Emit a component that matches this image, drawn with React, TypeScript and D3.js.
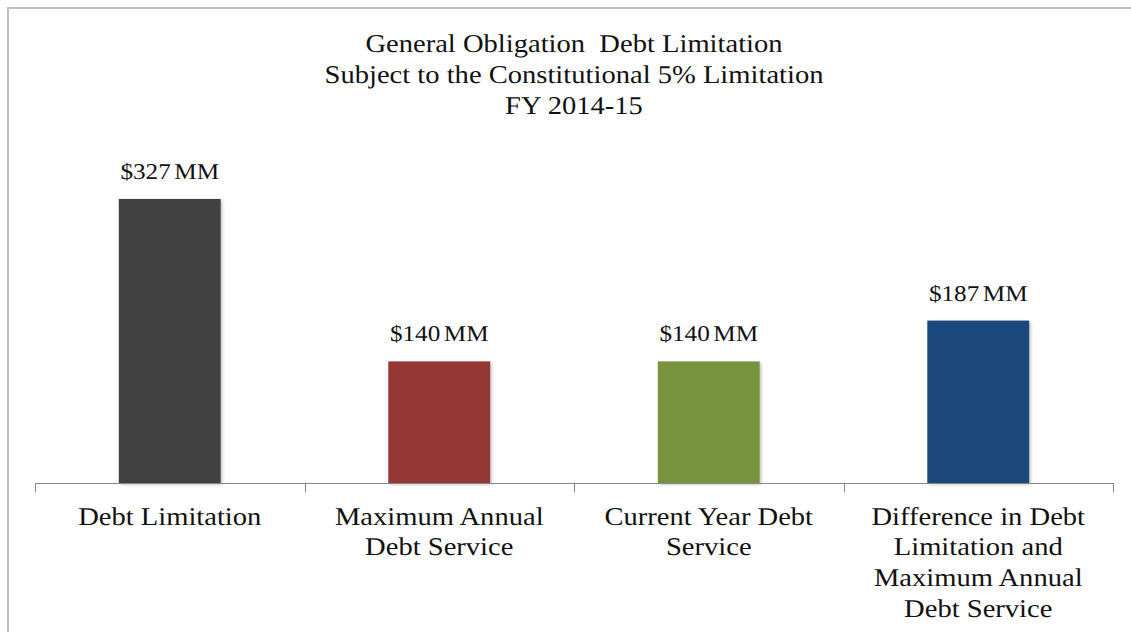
import React, { useEffect, useRef } from "react";
import * as d3 from "d3";

const categories = [
  "Debt Limitation",
  "Maximum Annual Debt Service",
  "Current Year Debt Service",
  "Difference in Debt Limitation and Maximum Annual Debt Service",
];
const categoryLines = [
  ["Debt Limitation"],
  ["Maximum Annual", "Debt Service"],
  ["Current Year Debt", "Service"],
  ["Difference in Debt", "Limitation and", "Maximum Annual", "Debt Service"],
];
const values = [327, 140, 140, 187];
const valueLabels = ["$327 MM", "$140 MM", "$140 MM", "$187 MM"];
const barColors = ["#404040", "#953735", "#77933C", "#1F497D"];
const titleLines = [
  "General Obligation  Debt Limitation",
  "Subject to the Constitutional 5% Limitation",
  "FY 2014-15",
];

const W = 1131;
const H = 632;
const FONT = "'Liberation Serif', 'Times New Roman', serif";
const SX = 1.12;

export default function App() {
  const ref = useRef<SVGSVGElement | null>(null);

  useEffect(() => {
    const svg = d3.select(ref.current);
    svg.selectAll("*").remove();

    const left = 35, right = 1113, baseY = 483;
    const x = d3.scaleBand<string>().domain(categories).range([left, right]).paddingInner(0.622).paddingOuter(0.311);
    const step = x.step();
    const y = d3.scaleLinear().domain([0, 350]).range([baseY, baseY - 304]);

    const defs = svg.append("defs");
    const f = defs.append("filter").attr("id", "sh").attr("x", "-10%").attr("y", "-10%").attr("width", "130%").attr("height", "130%");
    f.append("feDropShadow").attr("dx", 1.5).attr("dy", 1.5).attr("stdDeviation", 1.5).attr("flood-color", "#000").attr("flood-opacity", 0.25);

    // border
    svg.append("rect").attr("x", 8).attr("y", 8).attr("width", 1200).attr("height", 700)
      .attr("fill", "#fff").attr("stroke", "#C0C0C0").attr("stroke-width", 2);

    const txt = (g: any, tx: number, ty: number, size: number, s: string) =>
      g.append("text")
        .attr("transform", `translate(${tx},${ty}) scale(${SX},1)`)
        .attr("text-anchor", "middle")
        .attr("font-family", FONT).attr("font-size", size).attr("fill", "#111")
        .attr("text-rendering", "geometricPrecision")
        .style("white-space", "pre")
        .text(s);

    // title
    const tg = svg.append("g");
    titleLines.forEach((t, i) => txt(tg, (left + right) / 2, 51.5 + i * 31, 25.5, t));

    // bars
    svg.append("g").selectAll("rect").data(values).join("rect")
      .attr("x", (_, i) => x(categories[i])!)
      .attr("y", (d) => y(d))
      .attr("width", x.bandwidth())
      .attr("height", (d) => baseY - y(d))
      .attr("fill", (_, i) => barColors[i])
      .attr("filter", "url(#sh)");

    // value labels
    const vg = svg.append("g");
    values.forEach((d, i) => {
      txt(vg, x(categories[i])! + x.bandwidth() / 2, y(d) - 20, 22.5, valueLabels[i]).attr("word-spacing", -2.5);
    });

    // axis
    const ag = svg.append("g");
    ag.append("line").attr("x1", left).attr("x2", right).attr("y1", baseY + 0.5).attr("y2", baseY + 0.5)
      .attr("stroke", "#868686").attr("stroke-width", 1);
    d3.range(categories.length + 1).forEach((i) => {
      const tx = Math.round(left + i * step) + 0.5;
      ag.append("line").attr("x1", tx).attr("x2", tx).attr("y1", baseY).attr("y2", baseY + 9)
        .attr("stroke", "#868686").attr("stroke-width", 1);
    });

    // category labels
    categoryLines.forEach((lines, i) => {
      const cx = x(categories[i])! + x.bandwidth() / 2;
      lines.forEach((ln, j) => txt(ag, cx, 524.5 + j * 30.8, 25.5, ln));
    });
  }, []);

  return (
    <svg
      ref={ref}
      width={W}
      height={H}
      style={{ position: "fixed", left: 0, top: 0, display: "block", background: "#fff" }}
    />
  );
}
